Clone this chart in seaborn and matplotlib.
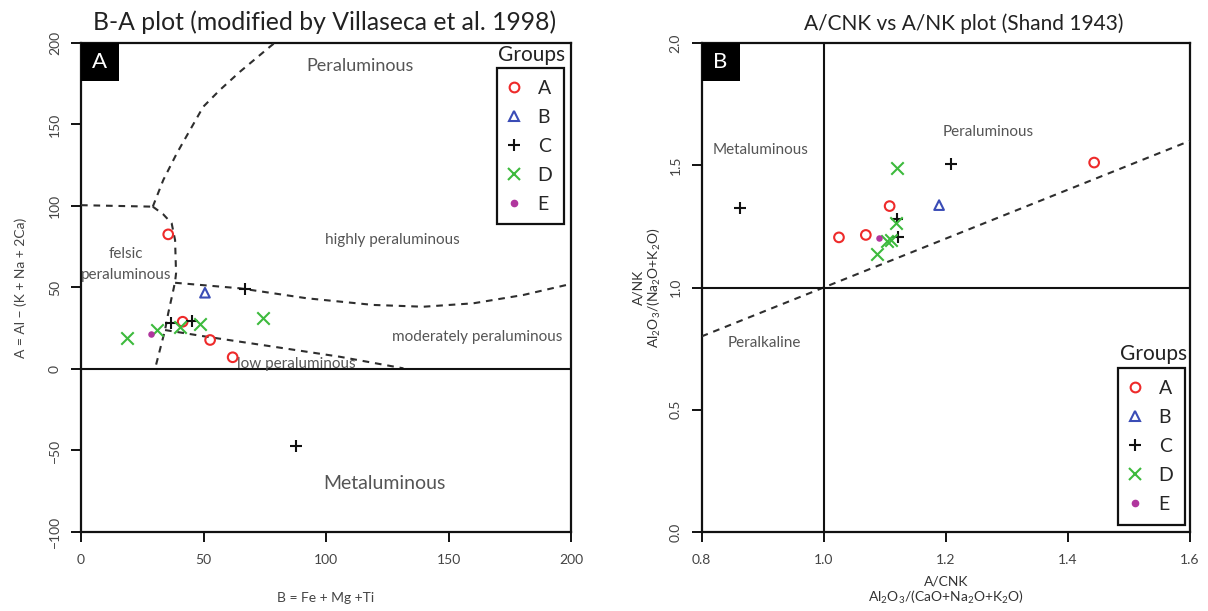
import matplotlib
matplotlib.use("Agg")
import matplotlib.pyplot as plt
import numpy as np
import pandas as pd
import seaborn as sns
from matplotlib.lines import Line2D
from matplotlib.patches import Rectangle

sns.set_theme(style="ticks")
plt.rcParams["font.family"] = ["Lato", "DejaVu Sans"]
plt.rcParams["mathtext.fontset"] = "custom"
plt.rcParams["mathtext.rm"] = "Lato"

# ---- groups and their symbols ----
groups = ["A", "B", "C", "D", "E"]
group_colors = ["#EE2A2A", "#3A4CB6", "#111111", "#3DBA3D", "#B0369E"]
group_markers = ["o", "^", "+", "x", "o"]

# ---- B-A diagram samples ----
ba_group = ["A", "A", "A", "A", "B", "C", "C", "C", "C", "D", "D", "D", "D", "D", "E"]
ba_b = [35.6, 41.5, 52.7, 61.9, 50.6, 36.7, 45.2, 66.9, 87.7, 40.4, 48.6, 74.1, 30.9, 18.6, 28.4]
ba_a = [82.6, 29.0, 17.8, 7.2, 46.8, 28.4, 29.4, 48.9, -47.0, 26.0, 27.4, 31.1, 23.9, 19.2, 21.3]

# ---- Shand diagram samples ----
sh_group = ["A", "A", "A", "A", "B", "C", "C", "C", "C", "D", "D", "D", "D", "D", "E"]
sh_acnk = [1.025, 1.069, 1.108, 1.443, 1.189, 0.863, 1.122, 1.120, 1.208, 1.120, 1.118, 1.111, 1.103, 1.087, 1.090]
sh_ank = [1.205, 1.215, 1.333, 1.511, 1.337, 1.324, 1.205, 1.279, 1.505, 1.487, 1.265, 1.194, 1.190, 1.137, 1.201]

# ---- field boundaries of the B-A diagram ----
felsic_top_b = [0.0, 29.3]
felsic_top_a = [100.5, 99.6]
per_curve_b = [29.3, 33.6, 39.1, 44.5, 49.9, 56.7, 64.9, 77.1, 79.0]
per_curve_a = [99.6, 116.0, 132.3, 146.6, 160.9, 171.2, 182.4, 197.7, 200.0]
felsic_side_b = [29.3, 33.5, 37.0, 38.4, 38.8, 38.4, 37.7, 35.6, 34.3, 32.2, 30.2]
felsic_side_a = [99.6, 95.0, 89.4, 79.1, 58.7, 53.6, 48.5, 34.2, 23.9, 11.7, 0.0]
highly_b = [38.4, 64.9, 92.1, 119.3, 139.7, 160.1, 180.5, 200.0]
highly_a = [52.9, 49.5, 43.4, 39.3, 38.2, 40.3, 45.4, 52.2]
low_b = [34.3, 51.3, 78.5, 105.7, 131.6]
low_a = [23.9, 19.8, 13.7, 7.5, 0.4]

# ---- Shand reference line ----
shand_x = [0.8, 1.6]
shand_y = [0.8, 1.6]

W, H = 1208, 611
fig = plt.figure(figsize=(W / 100, H / 100), dpi=100)
fig.patch.set_facecolor("white")


def frac_box(x0, x1, ytop, ybot):
    return [x0 / W, 1 - ybot / H, (x1 - x0) / W, (ybot - ytop) / H]


ax1 = fig.add_axes(frac_box(81, 571, 43, 532))
ax2 = fig.add_axes(frac_box(701.6, 1190, 43, 532))

ba_df = pd.DataFrame({"group": ba_group, "B": ba_b, "A": ba_a})
sh_df = pd.DataFrame({"group": sh_group, "ACNK": sh_acnk, "ANK": sh_ank})

dash = (0, (3.2, 2.8))
line_col = "#2e2e2e"


def draw_groups(ax, df, xcol, ycol):
    for g, c, m in zip(groups, group_colors, group_markers):
        sub = df[df["group"] == g]
        if sub.empty:
            continue
        if g == "E":
            sns.scatterplot(data=sub, x=xcol, y=ycol, marker="o", s=22, color=c,
                            linewidth=0, ax=ax, zorder=5)
        elif m in ("o", "^"):
            sns.scatterplot(data=sub, x=xcol, y=ycol, marker=m, s=48, color=c,
                            linewidth=1.5, ax=ax, zorder=5)
            coll = ax.collections[-1]
            coll.set_facecolor("none")
            coll.set_edgecolor(c)
        else:
            sns.scatterplot(data=sub, x=xcol, y=ycol, marker=m, s=80, color=c,
                            linewidth=1.5, ax=ax, zorder=5)


def style_axes(ax):
    for sp in ax.spines.values():
        sp.set_linewidth(1.6)
        sp.set_color("#111111")
    ax.tick_params(axis="both", direction="out", length=7.5, width=1.4,
                   colors="#111111", labelsize=10, labelcolor="#444444")
    ax.tick_params(axis="x", pad=8)
    ax.tick_params(axis="y", pad=7)
    for lab in ax.get_yticklabels():
        lab.set_rotation(90)
        lab.set_va("center")


def panel_tag(ax, letter, wfrac):
    ax.add_patch(Rectangle((0, 1 - 0.0777), wfrac, 0.0777, transform=ax.transAxes,
                           facecolor="black", edgecolor="none", zorder=6, clip_on=False))
    ax.text(wfrac / 2, 1 - 0.0777 / 2, letter, transform=ax.transAxes, color="white",
            fontsize=16, ha="center", va="center", zorder=7)


def group_legend(ax, anchor, title_xy):
    handles = []
    for g, c, m in zip(groups, group_colors, group_markers):
        if g == "E":
            h = Line2D([], [], linestyle="none", marker="o", markersize=4.5,
                       markerfacecolor=c, markeredgecolor=c)
        elif m in ("o", "^"):
            h = Line2D([], [], linestyle="none", marker=m, markersize=7,
                       markerfacecolor="none", markeredgecolor=c, markeredgewidth=1.5)
        else:
            h = Line2D([], [], linestyle="none", marker=m, markersize=8.5,
                       markeredgecolor=c, markeredgewidth=1.5)
        handles.append(h)
    leg = ax.legend(handles, groups, loc="upper right", bbox_to_anchor=anchor,
                    bbox_transform=ax.transAxes, borderaxespad=0, frameon=True,
                    fancybox=False, fontsize=14, handlelength=0.6, handletextpad=0.9,
                    labelspacing=0.62, borderpad=0.6)
    fr = leg.get_frame()
    fr.set_edgecolor("#111111")
    fr.set_linewidth(1.6)
    fr.set_facecolor("white")
    fr.set_alpha(1)
    leg.set_zorder(8)
    ax.text(title_xy[0], title_xy[1], "Groups", transform=ax.transAxes, fontsize=15,
            ha="center", va="center", zorder=9, color="#222222")


# ================= B-A plot =================
for bx, ay in [(felsic_top_b, felsic_top_a), (per_curve_b, per_curve_a),
               (felsic_side_b, felsic_side_a), (highly_b, highly_a), (low_b, low_a)]:
    ax1.plot(bx, ay, linestyle=dash, color=line_col, linewidth=1.5, zorder=3)
ax1.axhline(0, color="#111111", linewidth=1.5, zorder=3)

draw_groups(ax1, ba_df, "B", "A")

ax1.set_xlim(0, 200)
ax1.set_ylim(-100, 200)
ax1.set_xticks([0, 50, 100, 150, 200])
ax1.set_yticks([-100, -50, 0, 50, 100, 150, 200])
ax1.set_xticklabels(["0", "50", "100", "150", "200"])
ax1.set_yticklabels(["\u2212100", "\u221250", "0", "50", "100", "150", "200"])
style_axes(ax1)
ax1.set_xlabel("B = Fe + Mg +Ti", fontsize=10, color="#444444", labelpad=19)
ax1.set_ylabel("A = Al \u2212 (K + Na + 2Ca)", fontsize=10, color="#444444", labelpad=16)

fig.text(325 / W, 1 - 30 / H, "B-A plot (modified by Villaseca et al. 1998)",
         fontsize=17.8, color="#222222", ha="center", va="baseline")
fig.text(964 / W, 1 - 30 / H, "A/CNK vs A/NK plot (Shand 1943)",
         fontsize=15, color="#222222", ha="center", va="baseline")

txt = "#555555"
ax1.text(113.9, 185.9, "Peraluminous", fontsize=13, color=txt, ha="center", va="center")
ax1.text(126.9, 79.1, "highly peraluminous", fontsize=11, color=txt, ha="center", va="center")
ax1.text(18.5, 70.6, "felsic", fontsize=11, color=txt, ha="center", va="center")
ax1.text(18.5, 57.7, "peraluminous", fontsize=11, color=txt, ha="center", va="center")
ax1.text(161.6, 19.6, "moderately peraluminous", fontsize=11, color=txt, ha="center", va="center")
ax1.text(88.0, 3.3, "low peraluminous", fontsize=11, color=txt, ha="center", va="center")
ax1.text(124.0, -70.5, "Metaluminous", fontsize=14, color=txt, ha="center", va="center")

panel_tag(ax1, "A", 38 / 490)
group_legend(ax1, (0.986, 0.949), (0.920, 0.975))

# ================= A/CNK vs A/NK =================
ax2.plot(shand_x, shand_y, linestyle=dash, color=line_col, linewidth=1.5, zorder=3)
ax2.axvline(1.0, color="#111111", linewidth=1.5, zorder=3)
ax2.axhline(1.0, color="#111111", linewidth=1.5, zorder=3)

draw_groups(ax2, sh_df, "ACNK", "ANK")

ax2.set_xlim(0.8, 1.6)
ax2.set_ylim(0.0, 2.0)
ax2.set_xticks([0.8, 1.0, 1.2, 1.4, 1.6])
ax2.set_yticks([0.0, 0.5, 1.0, 1.5, 2.0])
ax2.set_xticklabels(["0.8", "1.0", "1.2", "1.4", "1.6"])
ax2.set_yticklabels(["0.0", "0.5", "1.0", "1.5", "2.0"])
style_axes(ax2)
ax2.set_xlabel("A/CNK\nAl$_\\mathregular{2}$O$_\\mathregular{3}$/(CaO+Na$_\\mathregular{2}$O+K$_\\mathregular{2}$O)",
               fontsize=10, color="#333333", labelpad=7, linespacing=1.1)
ax2.set_ylabel("A/NK\nAl$_\\mathregular{2}$O$_\\mathregular{3}$/(Na$_\\mathregular{2}$O+K$_\\mathregular{2}$O)",
               fontsize=10, color="#333333", labelpad=5, linespacing=1.05)

ax2.text(1.270, 1.635, "Peraluminous", fontsize=11, color=txt, ha="center", va="center")
ax2.text(0.896, 1.561, "Metaluminous", fontsize=11, color=txt, ha="center", va="center")
ax2.text(0.902, 0.774, "Peralkaline", fontsize=11, color=txt, ha="center", va="center")

panel_tag(ax2, "B", 38 / 488.6)
group_legend(ax2, (0.990, 0.335), (0.926, 0.364))

fig.savefig("out.png", dpi=100, facecolor="white")
